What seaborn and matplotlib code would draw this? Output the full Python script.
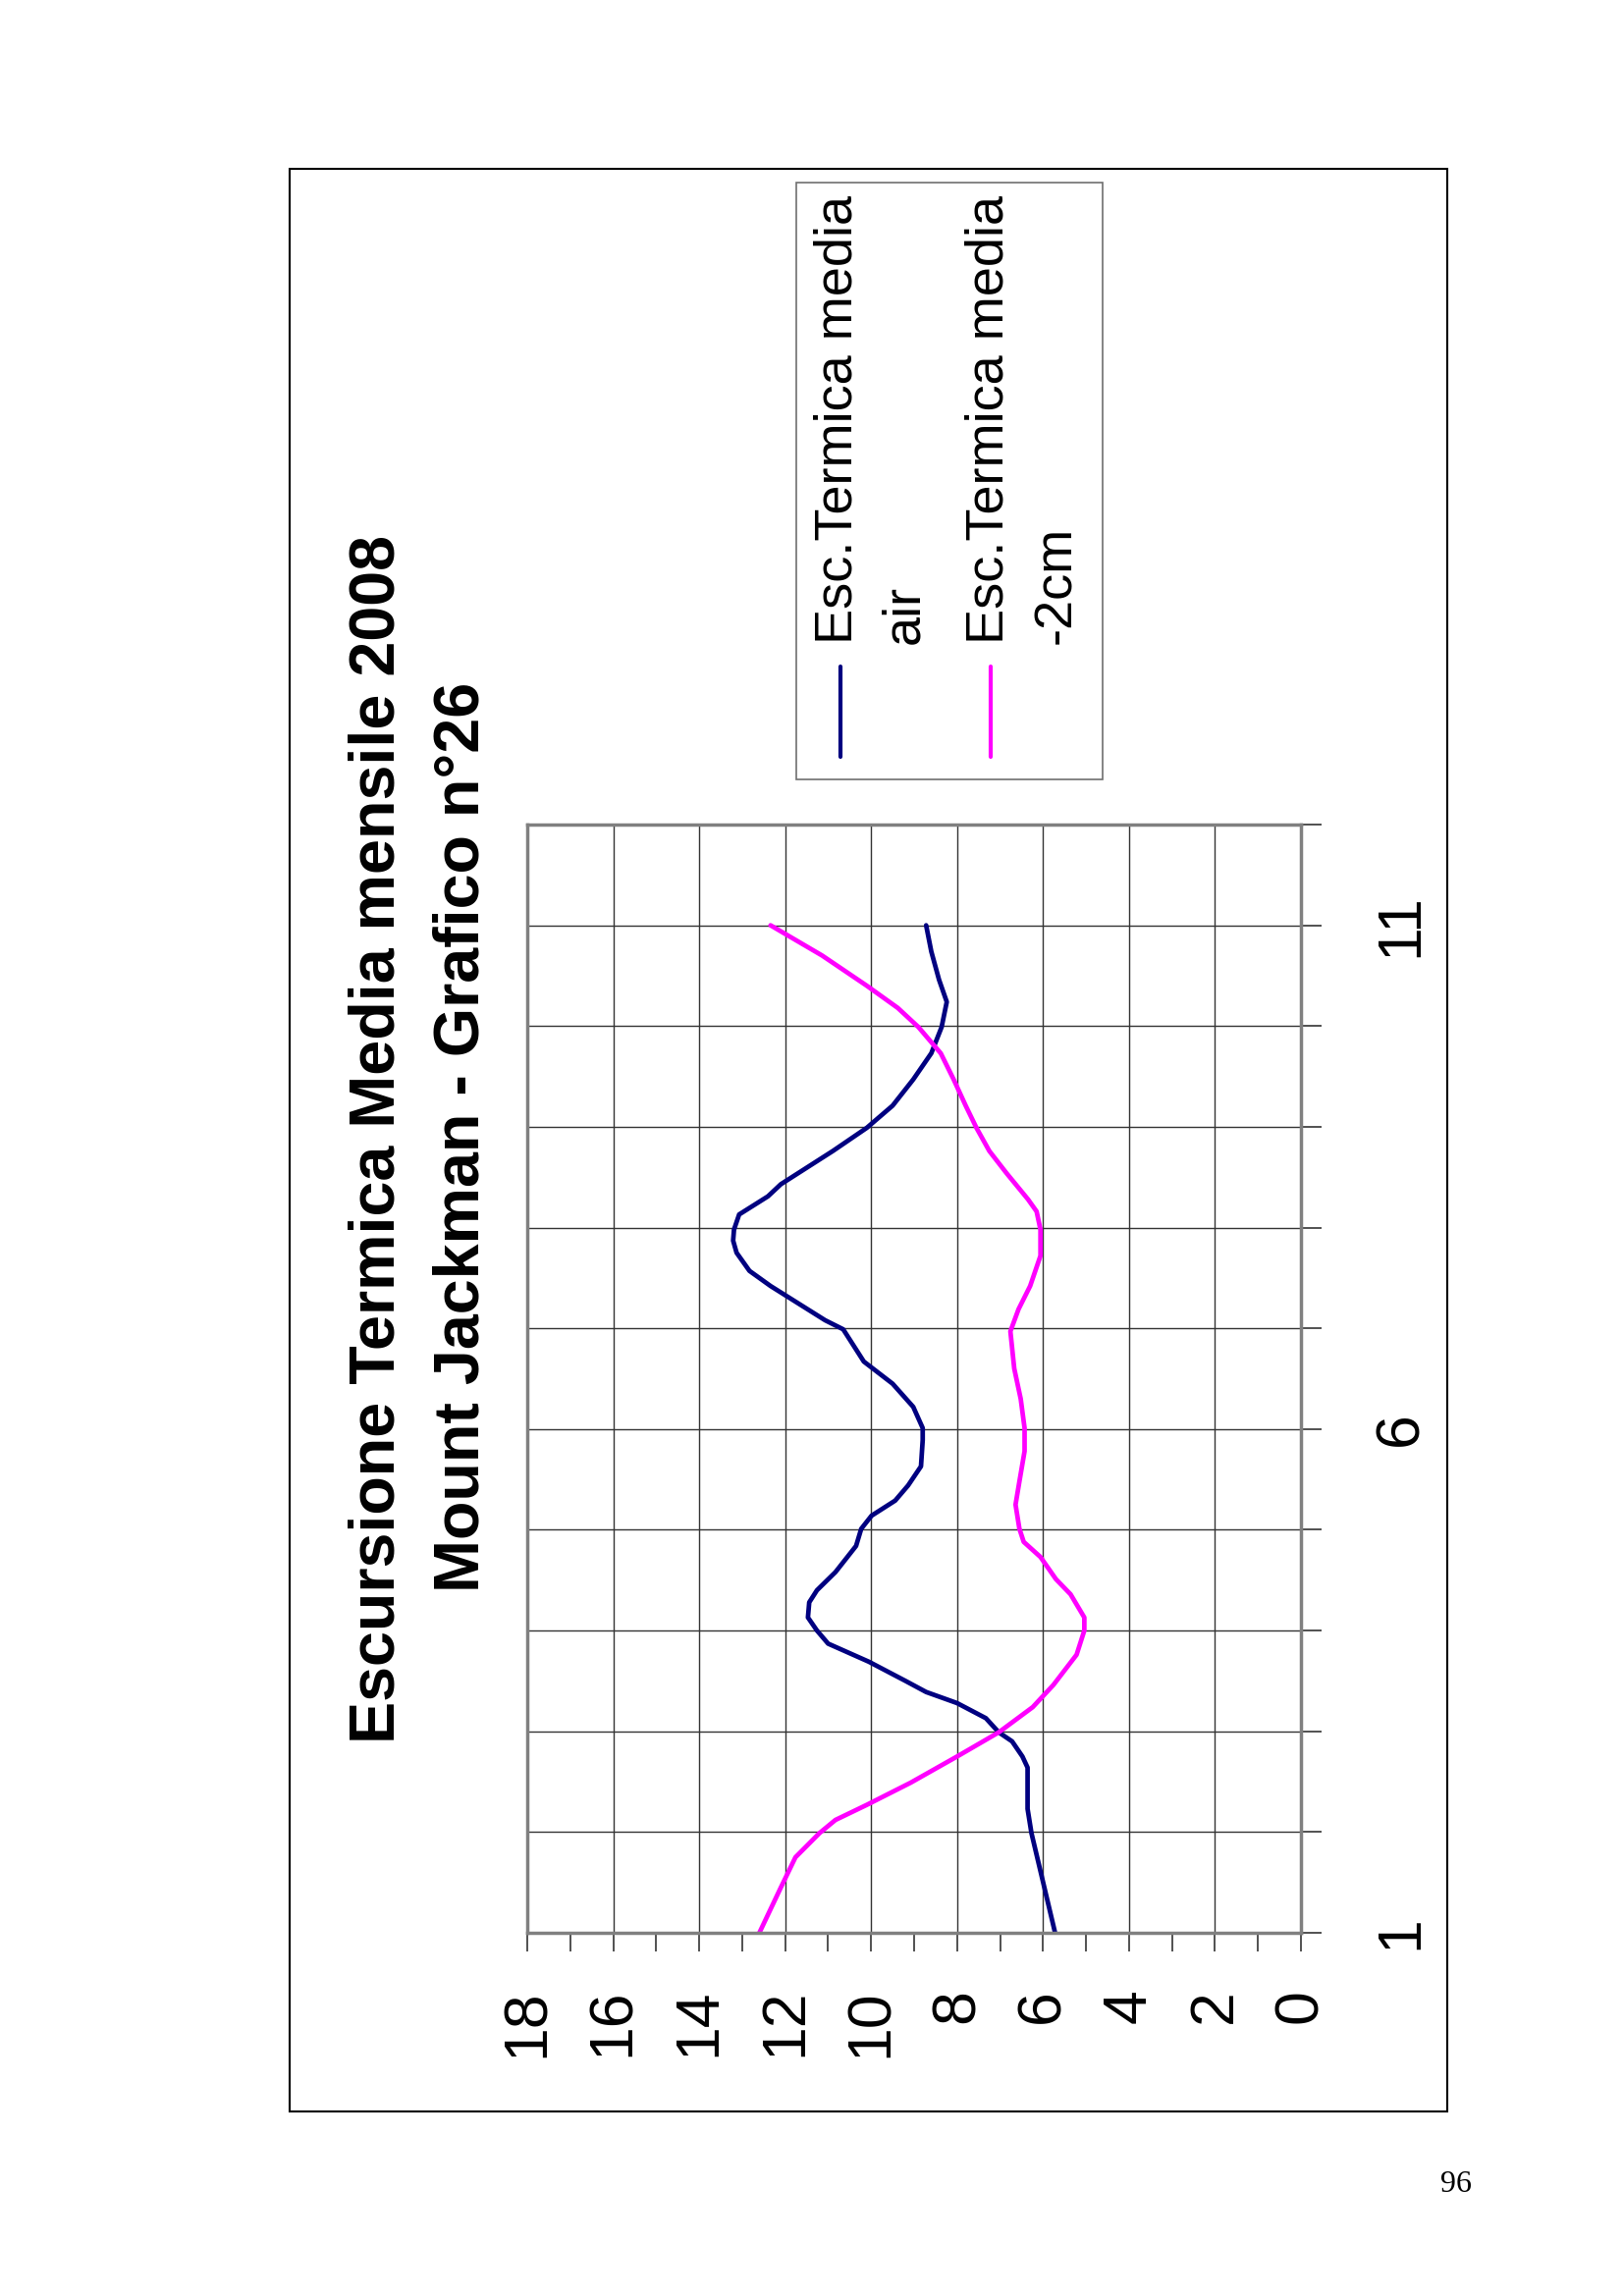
import matplotlib
matplotlib.use("Agg")
import matplotlib.pyplot as plt
import seaborn as sns
import pandas as pd
from matplotlib.patches import Rectangle
from matplotlib.lines import Line2D

# dati (mese, escursione termica media)
mesi_air = [1.00, 1.99, 2.23, 2.64, 2.75, 2.90, 2.99, 3.13, 3.28, 3.39, 3.50, 3.69, 3.87,
            4.00, 4.13, 4.28, 4.40, 4.58, 4.84, 5.01, 5.14, 5.29, 5.44, 5.63, 5.89, 6.01,
            6.22, 6.45, 6.67, 6.99, 7.08, 7.42, 7.57, 7.75, 7.87, 7.98, 8.13, 8.31, 8.43,
            8.76, 8.99, 9.21, 9.47, 9.73, 9.99, 10.24, 10.46, 10.74, 11.00]
esc_air = [5.72, 6.27, 6.36, 6.36, 6.48, 6.72, 7.03, 7.33, 8.00, 8.72, 9.20, 10.05, 11.00,
           11.26, 11.47, 11.44, 11.26, 10.83, 10.35, 10.23, 9.99, 9.44, 9.14, 8.84, 8.80, 8.80,
           9.02, 9.50, 10.17, 10.65, 11.07, 12.34, 12.83, 13.13, 13.21, 13.19, 13.07, 12.40, 12.10,
           10.89, 10.10, 9.50, 9.02, 8.60, 8.36, 8.24, 8.42, 8.60, 8.72]

mesi_2cm = [1.00, 1.45, 1.75, 1.99, 2.12, 2.27, 2.49, 2.75, 2.99, 3.24, 3.46, 3.76, 4.00,
            4.13, 4.36, 4.51, 4.73, 4.88, 5.01, 5.25, 5.48, 5.78, 6.01, 6.30, 6.60, 6.97,
            7.19, 7.42, 7.72, 7.98, 8.16, 8.28, 8.54, 8.76, 8.99, 9.21, 9.47, 9.73, 9.99,
            10.18, 10.40, 10.70, 11.00]
esc_2cm = [12.60, 12.10, 11.76, 11.20, 10.83, 10.10, 9.08, 8.00, 7.03, 6.24, 5.76, 5.22, 5.04,
           5.04, 5.36, 5.70, 6.06, 6.45, 6.55, 6.64, 6.55, 6.43, 6.43, 6.52, 6.67, 6.76,
           6.57, 6.30, 6.06, 6.06, 6.15, 6.35, 6.85, 7.25, 7.55, 7.80, 8.08, 8.38, 8.90,
           9.38, 10.10, 11.14, 12.34]

serie = ["Esc.Termica media air", "Esc.Termica media -2cm"]
colori = ["#000080", "#FF00FF"]
tick_mesi = list(range(1, 13))
etichette_mesi = ["1", "", "", "", "", "6", "", "", "", "", "11", ""]
tick_valori = list(range(0, 19, 2))

titolo1 = "Escursione Termica Media mensile 2008"
titolo2 = "Mount Jackman - Grafico n\u00b026"

df = pd.concat([
    pd.DataFrame({"mese": mesi_air, "esc": esc_air, "serie": serie[0]}),
    pd.DataFrame({"mese": mesi_2cm, "esc": esc_2cm, "serie": serie[1]}),
])

W, H = 1653, 2339
sns.set_style("ticks")
plt.rcParams['font.family'] = ['Liberation Sans', 'DejaVu Sans']
plt.rcParams['text.color'] = 'black'
plt.rcParams['xtick.labelcolor'] = 'black'
plt.rcParams['ytick.labelcolor'] = 'black'

fig = plt.figure(figsize=(W / 100, H / 100), dpi=100)
fx = lambda px: px / W
fy = lambda py: 1 - py / H

ax = fig.add_axes([fx(537), fy(1969), (1325 - 537) / W, (1969 - 840) / H])
sns.lineplot(data=df, x="esc", y="mese", hue="serie", palette=colori, orient="y",
             sort=False, estimator=None, linewidth=3.4, legend=False, ax=ax)

ax.set_xlim(18, 0)
ax.set_ylim(1, 12)
ax.set_xlabel("")
ax.set_ylabel("")
ax.set_xticks(tick_valori)
ax.set_xticklabels([str(v) for v in tick_valori])
ax.set_xticks(range(1, 18, 2), minor=True)
ax.yaxis.tick_right()
ax.set_yticks(tick_mesi)
ax.set_yticklabels(etichette_mesi)
ax.grid(True, which="major", color="#333333", linewidth=1.0)
ax.tick_params(axis="x", which="both", direction="out", length=14, width=1.2,
               color="#333333", labelsize=45, pad=27)
ax.tick_params(axis="y", which="major", direction="out", length=15, width=1.2,
               color="#333333", labelsize=45, pad=37)
plt.setp(ax.get_xticklabels(), rotation=90, ha="center", va="top")
plt.setp(ax.get_yticklabels(), rotation=90, ha="left", va="center")
for s in ax.spines.values():
    s.set_color("#808080")
    s.set_linewidth(2.5)

# titolo ruotato
fig.text(fx(402), fy(1161), titolo1, rotation=90, rotation_mode="anchor",
         ha="center", va="baseline", fontsize=46.5, fontweight="bold")
fig.text(fx(488), fy(1158), titolo2, rotation=90, rotation_mode="anchor",
         ha="center", va="baseline", fontsize=46.5, fontweight="bold")

# legenda ruotata
fig.patches.append(Rectangle((fx(811), fy(794)), (1123 - 811) / W, (794 - 186) / H,
                             transform=fig.transFigure, fill=False,
                             edgecolor="#707070", linewidth=1.2))
for xl, c in [(856, colori[0]), (1009, colori[1])]:
    fig.add_artist(Line2D([fx(xl), fx(xl)], [fy(771), fy(679)], transform=fig.transFigure,
                          color=c, linewidth=3))
for xb, testo in [(868, "Esc.Termica media"), (935, "air"),
                  (1022, "Esc.Termica media"), (1090, "-2cm")]:
    fig.text(fx(xb), fy(656), testo, rotation=90, rotation_mode="anchor",
             ha="left", va="baseline", fontsize=39)

# cornice del grafico
fig.patches.append(Rectangle((fx(295), fy(2151)), (1474 - 295) / W, (2151 - 172) / H,
                             transform=fig.transFigure, fill=False,
                             edgecolor="black", linewidth=1.5))

fig.text(fx(1483), fy(2233), "96", ha="center", va="baseline", fontsize=23,
         family=["Liberation Serif", "DejaVu Serif"])

fig.savefig("out.png", dpi=100, facecolor="white")
